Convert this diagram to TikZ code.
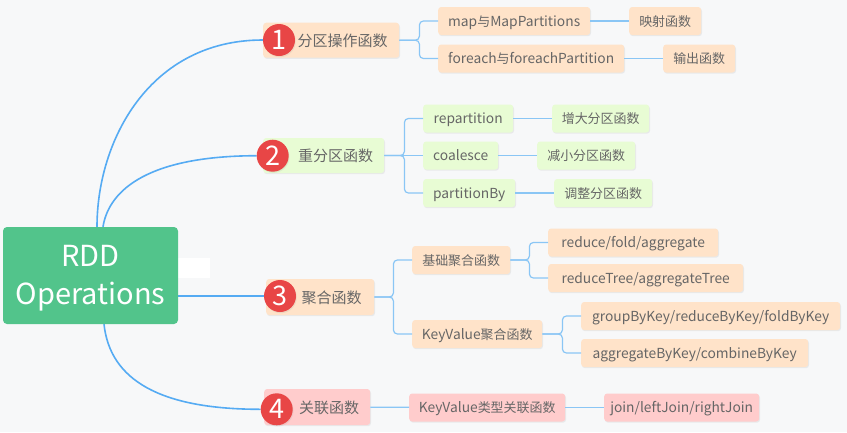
\documentclass[tikz,border=0pt]{standalone}
\usepackage{fontspec}
\setmainfont{Noto Sans CJK SC}
\newfontfamily\cjk{Noto Sans CJK SC}[Scale=0.94]
\usepackage{tikz}
\usetikzlibrary{positioning, backgrounds, shadows}
\definecolor{bgcolor}{HTML}{F7F8F9}
\definecolor{rootgreen}{HTML}{52C48B}
\definecolor{badgered}{HTML}{E84646}
\definecolor{peachfill}{HTML}{FFE3C9}
\definecolor{greenfill}{HTML}{E8FCD4}
\definecolor{rosefill}{HTML}{FFCCCC}
\definecolor{textgray}{HTML}{666666}
\definecolor{curveblue}{HTML}{55ABF3}
\definecolor{tieblue}{HTML}{8AC6F5}

\begin{document}
\begin{tikzpicture}[
  x=1pt, y=-1pt,
  softshadow/.style={drop shadow={shadow xshift=0.8pt, shadow yshift=-1.2pt, opacity=0.12}},
  rootbox/.style={rounded corners=4pt, fill=rootgreen, text=white, align=center,
    minimum width=175pt, minimum height=97pt, font=\fontsize{29}{38}\selectfont},
  topic/.style={rounded corners=3pt, anchor=west, text=textgray, minimum height=35pt,
    inner xsep=2pt, text height=14pt, text depth=2pt, softshadow,
    font=\fontsize{15}{18}\selectfont},
  leaf/.style={rounded corners=3pt, anchor=west, text=textgray, minimum height=28pt,
    inner xsep=2pt, text height=12pt, text depth=2pt, softshadow,
    font=\fontsize{13.8}{16}\selectfont},
  badge/.style={circle, fill=badgered, text=white, minimum size=32pt, inner sep=0pt,
    softshadow, font=\fontsize{27}{27}\selectfont},
  branch/.style={curveblue, line width=1.6pt},
  tie/.style={tieblue, line width=1.2pt, rounded corners=4pt}
]
  \useasboundingbox (0,0) rectangle (847,432);

  % Zentrum
  \node[rootbox] (root) at (90.5,275.5)
    {\raisebox{-3pt}[\height][\depth]{RDD}\\\raisebox{-3pt}[\height][\depth]{Operations}};

  % Hauptäste
  \node[topic, fill=peachfill, minimum width=136pt] (op1) at (263,40.2) {\hspace{23pt}分区操作函数};
  \node[topic, fill=greenfill, minimum width=121pt] (op2) at (263,155.5) {\hspace{24pt}重分区函数};
  \node[topic, fill=peachfill, minimum width=108pt, minimum height=36pt] (op3) at (266,297) {\hspace{23pt}聚合函数};
  \node[topic, fill=rosefill, minimum width=106pt, minimum height=36pt] (op4) at (264,407) {\hspace{24pt}关联函数};

  \node[badge] (b1) at (279,40) {1};
  \node[badge] (b2) at (272.7,155.7) {2};
  \node[badge] (b3) at (280,296) {3};
  \node[badge] (b4) at (276.7,409.3) {4};

  % Ast 1
  \node[leaf, fill=peachfill, minimum width=152pt] (mapp) at (438,21) {map{\cjk 与}MapPartitions};
  \node[leaf, fill=peachfill, minimum width=186pt] (fore) at (438,58.5) {foreach{\cjk 与}foreachPartition};
  \node[leaf, fill=peachfill, minimum width=72pt] (mapfn) at (629,21) {\cjk 映射函数};
  \node[leaf, fill=peachfill, minimum width=72pt] (outfn) at (663,58.5) {\cjk 输出函数};

  % Ast 2
  \node[leaf, fill=greenfill, minimum width=90pt] (repart) at (423,118.5) {repartition};
  \node[leaf, fill=greenfill, minimum width=75pt] (coal) at (423,155.5) {coalesce};
  \node[leaf, fill=greenfill, minimum width=92pt] (partby) at (423,193) {partitionBy};
  \node[leaf, fill=greenfill, minimum width=97pt] (incfn) at (552,118.5) {\cjk 增大分区函数};
  \node[leaf, fill=greenfill, minimum width=98pt] (decfn) at (537,155.5) {\cjk 减小分区函数};
  \node[leaf, fill=greenfill, minimum width=98pt] (adjfn) at (554,193) {\cjk 调整分区函数};

  % Ast 3
  \node[leaf, fill=peachfill, minimum width=98pt] (basic) at (412,260) {\cjk 基础聚合函数};
  \node[leaf, fill=peachfill, minimum width=130pt] (kvagg) at (412,334) {KeyValue{\cjk 聚合函数}};
  \node[leaf, fill=peachfill, minimum width=170pt] (rfa) at (548,242.5) {reduce/fold/aggregate};
  \node[leaf, fill=peachfill, minimum width=195pt] (rta) at (548,278) {reduceTree/aggregateTree};
  \node[leaf, fill=peachfill, minimum width=259pt] (gbk) at (581,316) {groupByKey/reduceByKey/foldByKey};
  \node[leaf, fill=peachfill, minimum width=227pt] (abk) at (581,353) {aggregateByKey/combineByKey};

  % Ast 4
  \node[leaf, fill=rosefill, minimum width=156pt] (kvjoin) at (409,407.5) {KeyValue{\cjk 类型关联函数}};
  \node[leaf, fill=rosefill, minimum width=155pt] (join) at (604,407.5) {join/leftJoin/rightJoin};

  % Verbindungen
  \draw[tie] (op1.east) -- ++(20,0) |- (mapp.west);
  \draw[tie] (op1.east) -- ++(20,0) |- (fore.west);
  \draw[tie] (mapp) -- (mapfn);
  \draw[tie] (fore) -- (outfn);

  \draw[tie] (op2.east) -- ++(20,0) |- (repart.west);
  \draw[tie] (op2.east) -- (coal.west);
  \draw[tie] (op2.east) -- ++(20,0) |- (partby.west);
  \draw[tie] (repart) -- (incfn);
  \draw[tie] (coal) -- (decfn);
  \draw[tie] (partby) -- (adjfn);

  \draw[tie] (op3.east) -- ++(19,0) |- (basic.west);
  \draw[tie] (op3.east) -- ++(19,0) |- (kvagg.west);
  \draw[tie] (basic.east) -- ++(19,0) |- (rfa.west);
  \draw[tie] (basic.east) -- ++(19,0) |- (rta.west);
  \draw[tie] (kvagg.east) -- ++(20,0) |- (gbk.west);
  \draw[tie] (kvagg.east) -- ++(20,0) |- (abk.west);

  \draw[tie] (op4) -- (kvjoin);
  \draw[tie] (kvjoin) -- (join);

  \begin{scope}[on background layer]
    \fill[bgcolor] (0,0) rectangle (847,432);
    \fill[white] (178,258) rectangle (210,278);
    \draw[branch] ([xshift=6.5pt]root.north) .. controls (97,140) and (150,40) .. (b1.west);
    \draw[branch] ([xshift=12.5pt]root.north) .. controls (108,195) and (140,156) .. (b2.west);
    \draw[branch] (root.east |- b3) -- (b3.west);
    \draw[branch] ([xshift=13.5pt]root.south) .. controls (110,380) and (160,409.3) .. (b4.west);
  \end{scope}
\end{tikzpicture}
\end{document}
